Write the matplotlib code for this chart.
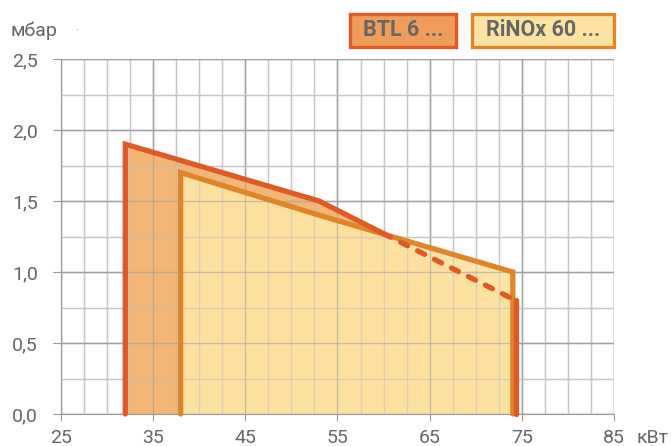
import matplotlib
matplotlib.use("Agg")
import matplotlib.pyplot as plt
from matplotlib.patches import Rectangle, Polygon
from matplotlib.ticker import FuncFormatter

plt.rcParams['font.family'] = ['Roboto', 'DejaVu Sans']

# ---- data ----
btl_x = [32, 32, 53, 60, 74.3, 74.3]
btl_y = [0.0, 1.9, 1.5, 1.27, 0.8, 0.0]
rinox_x = [38, 38, 53, 74, 74]
rinox_y = [0.0, 1.7, 1.4, 1.0, 0.0]
series_names = ["BTL 6 ...", "RiNOx 60 ..."]
x_ticks = [25, 35, 45, 55, 65, 75, 85]
y_ticks = [0.0, 0.5, 1.0, 1.5, 2.0, 2.5]
x_unit = "кВт"
y_unit = "мбар"

TXT = "#666666"
BTL_LINE = "#e05a28"
BTL_FILL = "#f2b26e"
BTL_LEG = "#f09c5a"
RIN_LINE = "#e0862a"
RIN_FILL = "#fde3a3"

fig = plt.figure(figsize=(6.71, 4.46), dpi=100)
W, H = 671, 446
L, R, T, B = 60.7, 614.3, 59, 414
ax = fig.add_axes([L / W, 1 - B / H, (R - L) / W, (B - T) / H])
ax.set_xlim(25, 85)
ax.set_ylim(0, 2.5)

# grid
minor_x = [v + 2.5 * k for v in range(25, 85, 5) for k in (0, 1)]
minor_x = [v for v in minor_x if v not in x_ticks]
minor_y = [0.25, 0.75, 1.25, 1.75, 2.25]
ax.set_xticks(x_ticks)
ax.set_yticks(y_ticks)
ax.set_xticks(minor_x, minor=True)
ax.set_yticks(minor_y, minor=True)
ax.grid(True, which='major', color='#a0a0a0', lw=1.0, zorder=0)
ax.grid(True, which='minor', color='#d2d2d2', lw=1.0, zorder=0)
ax.set_axisbelow(True)
for s in ax.spines.values():
    s.set_visible(False)
ax.spines['bottom'].set_visible(True)
ax.spines['bottom'].set_color('#999999')
ax.spines['left'].set_visible(True)
ax.spines['left'].set_color('#999999')
ax.tick_params(which='minor', length=0)
ax.tick_params(axis='x', which='major', length=5, color='#999999', labelcolor=TXT,
               labelsize=14, pad=6)
ax.tick_params(axis='y', which='major', length=5.5, color='#999999', labelcolor=TXT,
               labelsize=14, pad=11)
ax.yaxis.set_major_formatter(FuncFormatter(lambda v, p: f"{v:.1f}".replace('.', ',')))
ax.xaxis.set_major_formatter(FuncFormatter(lambda v, p: f"{v:.0f}"))

# fills
ax.add_patch(Polygon(list(zip(btl_x, btl_y)), closed=True, fc=BTL_FILL, ec='none',
                     alpha=0.95, zorder=1))
ax.add_patch(Polygon(list(zip(rinox_x, rinox_y)), closed=True, fc=RIN_FILL, ec='none',
                     alpha=0.95, zorder=2))
# grid visible through fills
for v in x_ticks:
    ax.axvline(v, color='#a0a0a0', lw=1.0, alpha=0.55, zorder=2.5)
for v in minor_x:
    ax.axvline(v, color='#c0c0c0', lw=1.0, alpha=0.5, zorder=2.5)
for v in y_ticks:
    ax.axhline(v, color='#a0a0a0', lw=1.0, alpha=0.55, zorder=2.5)
for v in minor_y:
    ax.axhline(v, color='#c0c0c0', lw=1.0, alpha=0.5, zorder=2.5)

LW = 3.8
# RiNOx outline
ax.plot(rinox_x, rinox_y, color=RIN_LINE, lw=LW, solid_capstyle='round',
        solid_joinstyle='miter', zorder=4, clip_on=False)
# BTL outline: solid part then dashed part
ax.plot(btl_x[:4], btl_y[:4], color=BTL_LINE, lw=LW, solid_capstyle='round',
        solid_joinstyle='miter', zorder=5, clip_on=False)
ax.plot(btl_x[3:5], btl_y[3:5], color=BTL_LINE, lw=LW, linestyle=(0, (1.5, 2.1)),
        dash_capstyle='round', zorder=5, clip_on=False)
ax.plot(btl_x[4:], btl_y[4:], color=BTL_LINE, lw=LW, solid_capstyle='round',
        zorder=5, clip_on=False)

# units
fig.text(11 / W, 1 - 31 / H, y_unit, color=TXT, fontsize=14, ha='left', va='center')
fig.text(77 / W, 1 - 31 / H, "·", color='#aaaaaa', fontsize=9, ha='center', va='center')
fig.text(636 / W, 1 - 438 / H, x_unit, color=TXT, fontsize=14, ha='left', va='center')

# legend boxes
def legbox(x0, x1, fc, ec, label):
    y0, y1 = 14, 47
    fig.add_artist(Rectangle((x0 / W, 1 - y1 / H), (x1 - x0) / W, (y1 - y0) / H,
                             transform=fig.transFigure, fc=fc, ec=ec, lw=2.4))
    fig.text((x0 + x1) / 2 / W, 1 - (y0 + y1) / 2 / H, label, color=TXT,
             fontsize=15.5, fontweight='bold', ha='center', va='center')

legbox(350, 456, BTL_LEG, BTL_LINE, series_names[0])
legbox(472, 614, RIN_FILL, RIN_LINE, series_names[1])

fig.savefig("out.png", dpi=100)
